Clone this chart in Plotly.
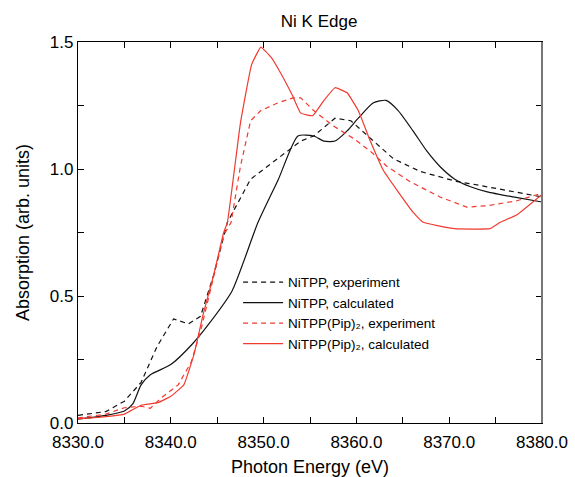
import plotly.graph_objects as go

# NiTPP, experiment (black dashed)
x_exp1 = [8330.0, 8333.0, 8335.0, 8336.8, 8338.5, 8340.3, 8341.9, 8343.2, 8344.6, 8346.1, 8348.6, 8351.1,
          8354.0, 8355.4, 8357.7, 8359.4, 8361.2, 8364.0, 8366.9, 8370.9, 8372.6, 8375.5, 8380.0]
y_exp1 = [0.030, 0.045, 0.086, 0.16, 0.30, 0.41, 0.39, 0.42, 0.58, 0.79, 0.96, 1.03,
          1.11, 1.13, 1.20, 1.19, 1.13, 1.04, 0.99, 0.95, 0.94, 0.92, 0.89]

# NiTPP, calculated (black solid)
x_calc1 = [8330.0, 8333.0, 8335.0, 8335.9, 8336.8, 8337.8, 8340.0, 8342.3, 8344.1, 8346.6, 8349.4, 8351.6,
           8353.7, 8355.4, 8356.5, 8357.7, 8359.0, 8360.2, 8361.8, 8363.2, 8364.5, 8366.1, 8367.6,
           8369.0, 8370.6, 8372.3, 8374.1, 8376.9, 8380.0]
y_calc1 = [0.015, 0.030, 0.047, 0.075, 0.15, 0.19, 0.23, 0.31, 0.39, 0.52, 0.79, 0.96,
           1.13, 1.13, 1.11, 1.11, 1.15, 1.20, 1.26, 1.27, 1.23, 1.15, 1.07,
           1.01, 0.96, 0.93, 0.91, 0.89, 0.87]

# NiTPP(Pip)2, experiment (red dashed)
x_exp2 = [8330.0, 8333.0, 8335.0, 8336.8, 8337.8, 8339.0, 8340.8, 8342.2, 8343.2, 8344.3, 8345.7, 8346.5,
          8347.5, 8348.6, 8349.7, 8351.5, 8353.2, 8354.0, 8355.4, 8357.5, 8359.7, 8361.5, 8363.3,
          8365.8, 8369.0, 8371.9, 8374.0, 8377.3, 8380.0]
y_exp2 = [0.020, 0.035, 0.060, 0.066, 0.058, 0.10, 0.15, 0.24, 0.36, 0.53, 0.74, 0.79,
          1.01, 1.19, 1.23, 1.26, 1.28, 1.28, 1.23, 1.17, 1.12, 1.07, 1.01,
          0.95, 0.89, 0.85, 0.855, 0.875, 0.905]

# NiTPP(Pip)2, calculated (red solid)
x_calc2 = [8330.0, 8333.0, 8335.0, 8336.8, 8338.6, 8340.0, 8341.4, 8342.5, 8343.5, 8344.6, 8345.7, 8346.1,
           8347.5, 8348.7, 8349.7, 8350.8, 8351.8, 8353.1, 8354.0, 8355.3, 8356.5, 8357.7, 8359.0,
           8360.2, 8361.5, 8362.9, 8364.5, 8366.1, 8367.2, 8370.6, 8374.4, 8375.5, 8377.3, 8380.0]
y_calc2 = [0.016, 0.025, 0.035, 0.07, 0.08, 0.105, 0.15, 0.27, 0.43, 0.58, 0.75, 0.79,
           1.18, 1.41, 1.48, 1.44, 1.38, 1.29, 1.22, 1.21, 1.27, 1.32, 1.30,
           1.23, 1.11, 0.995, 0.91, 0.83, 0.79, 0.765, 0.765, 0.79, 0.82, 0.90]

names = ["NiTPP, experiment", "NiTPP, calculated",
         "NiTPP(Pip)\u2082, experiment", "NiTPP(Pip)\u2082, calculated"]

BLACK = "#111111"
RED = "#f03a30"

fig = go.Figure()
fig.add_trace(go.Scatter(x=x_exp1, y=y_exp1, mode="lines", name=names[0],
                         line=dict(color=BLACK, width=1.2, dash="5px,4px")))
fig.add_trace(go.Scatter(x=x_calc1, y=y_calc1, mode="lines", name=names[1],
                         line=dict(color=BLACK, width=1.2, shape="spline", smoothing=0.6)))
fig.add_trace(go.Scatter(x=x_exp2, y=y_exp2, mode="lines", name=names[2],
                         line=dict(color=RED, width=1.2, dash="5px,4px")))
fig.add_trace(go.Scatter(x=x_calc2, y=y_calc2, mode="lines", name=names[3],
                         line=dict(color=RED, width=1.2, shape="spline", smoothing=0.3)))

axis_common = dict(showgrid=False, zeroline=False, showline=True, linecolor="black", linewidth=1.2,
                   mirror="ticks", ticks="inside", ticklen=6, tickcolor="black", tickwidth=1,
                   automargin=False, tickfont=dict(size=17, color="black"))

fig.update_layout(
    width=575, height=477,
    margin=dict(l=78, r=33, t=42, b=54),
    paper_bgcolor="white", plot_bgcolor="white",
    font=dict(family="Liberation Sans, Arial, sans-serif", color="black"),
    title=dict(text="Ni K Edge", x=0.555, xanchor="center", y=0.955, yanchor="middle",
               font=dict(size=17, color="black")),
    xaxis=dict(range=[8330, 8380], dtick=10, tick0=8330, tickformat=".1f", ticklabelstandoff=3,
               minor=dict(dtick=5, ticks="inside", ticklen=6, tickcolor="black"),
               title=dict(text="Photon Energy (eV)", font=dict(size=18)),
               **axis_common),
    yaxis=dict(range=[0, 1.5], dtick=0.5, tickformat=".1f",
               minor=dict(dtick=0.25, ticks="inside", ticklen=6, tickcolor="black"),
               title=dict(text="Absorption (arb. units)", font=dict(size=18)),
               **axis_common),
    legend=dict(x=0.345, y=0.41, xanchor="left", yanchor="top", bgcolor="rgba(0,0,0,0)",
                font=dict(size=13.5, color="black"), tracegroupgap=0, itemwidth=40),
    shapes=[dict(type="line", xref="paper", yref="paper", x0=1, x1=1, y0=0, y1=1,
                 line=dict(color="#777777", width=2), layer="above")],
    showlegend=True,
)

fig.write_html("out.html", config={"displayModeBar": False},
               post_script="document.body.style.margin='0';")
